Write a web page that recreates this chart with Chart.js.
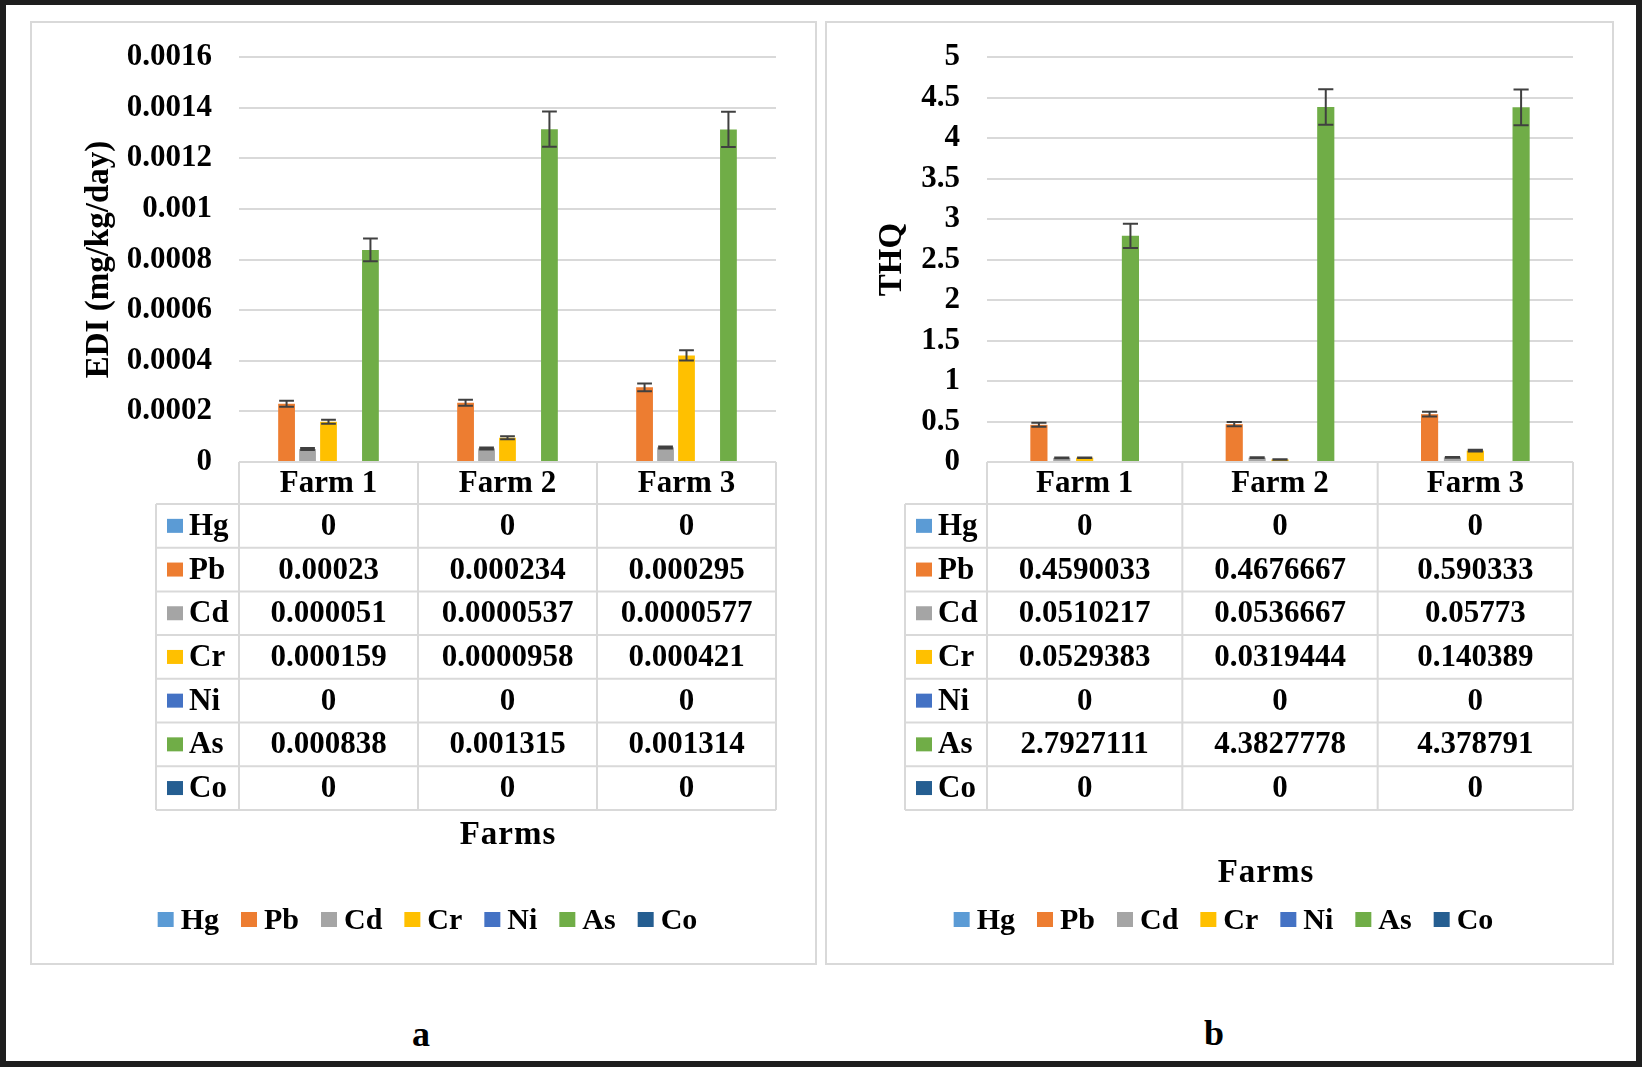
<!DOCTYPE html>
<html>
<head>
<meta charset="utf-8">
<title>EDI and THQ by farm</title>
<script src="https://cdn.jsdelivr.net/npm/chart.js@4.4.1/dist/chart.umd.min.js"></script>
<style>
  html, body { margin: 0; padding: 0; background: #fff; }
  #frame { position: absolute; left: 0; top: 0; width: 1642px; height: 1067px; box-sizing: border-box;
           border: 6px solid #1e1e1e; border-top-width: 5px; }
  .panel { position: absolute; top: 21px; height: 944px; box-sizing: border-box; border: 2px solid #d9d9d9; }
  #panelA { left: 30px; width: 787px; }
  #panelB { left: 825px; width: 789px; }
  canvas { position: absolute; }
  #chartA { left: 32px; top: 23px; }
  #chartB { left: 827px; top: 23px; }
  .tag { position: absolute; font: bold 36px 'Liberation Serif', serif; transform: translate(-50%, -50%); }
</style>
</head>
<body>
<div id="frame"></div>
<div class="panel" id="panelA"></div>
<div class="panel" id="panelB"></div>
<canvas id="chartA" width="783" height="940"></canvas>
<canvas id="chartB" width="785" height="940"></canvas>
<div class="tag" style="left:421px; top:1034px;">a</div>
<div class="tag" style="left:1214px; top:1033px;">b</div>

<script>
// categories and series
const farms = ['Farm 1', 'Farm 2', 'Farm 3'];
const metals = ['Hg', 'Pb', 'Cd', 'Cr', 'Ni', 'As', 'Co'];
const metalColors = ['#5b9bd5', '#ed7d31', '#a5a5a5', '#ffc000', '#4472c4', '#70ad47', '#255e91'];

// EDI (mg/kg/day)
const ediHg = [0, 0, 0];
const ediPb = [0.00023, 0.000234, 0.000295];
const ediCd = [0.000051, 0.0000537, 0.0000577];
const ediCr = [0.000159, 0.0000958, 0.000421];
const ediNi = [0, 0, 0];
const ediAs = [0.000838, 0.001315, 0.001314];
const ediCo = [0, 0, 0];
// error bars
const ediPbErr = [0.000012, 0.000012, 0.000015];
const ediCdErr = [0.000004, 0.000004, 0.000004];
const ediCrErr = [0.000008, 0.000006, 0.00002];
const ediAsErr = [0.000045, 0.00007, 0.00007];
const ediTicks = [0, 0.0002, 0.0004, 0.0006, 0.0008, 0.001, 0.0012, 0.0014, 0.0016];

// THQ
const thqHg = [0, 0, 0];
const thqPb = [0.4590033, 0.4676667, 0.590333];
const thqCd = [0.0510217, 0.0536667, 0.05773];
const thqCr = [0.0529383, 0.0319444, 0.140389];
const thqNi = [0, 0, 0];
const thqAs = [2.7927111, 4.3827778, 4.378791];
const thqCo = [0, 0, 0];
const thqPbErr = [0.025, 0.025, 0.03];
const thqCdErr = [0.004, 0.004, 0.004];
const thqCrErr = [0.004, 0.003, 0.01];
const thqAsErr = [0.15, 0.22, 0.22];
const thqTicks = [0, 0.5, 1, 1.5, 2, 2.5, 3, 3.5, 4, 4.5, 5];

const FONT = "'Liberation Serif', 'Times New Roman', serif";

// error bars on top of the bars
const errorBarPlugin = {
  id: 'errorBars',
  afterDatasetsDraw(chart) {
    const ctx = chart.ctx;
    const y = chart.scales.y;
    ctx.save();
    ctx.strokeStyle = '#404040';
    ctx.lineWidth = 2;
    chart.data.datasets.forEach((ds, di) => {
      if (!ds.errors) return;
      chart.getDatasetMeta(di).data.forEach((bar, i) => {
        const e = ds.errors[i];
        if (!e) return;
        const v = ds.data[i];
        const yt = y.getPixelForValue(v + e);
        const yb = y.getPixelForValue(v - e);
        const half = bar.width / 2 - 1;
        ctx.beginPath();
        ctx.moveTo(bar.x, yt); ctx.lineTo(bar.x, yb);
        ctx.moveTo(bar.x - half, yt); ctx.lineTo(bar.x + half, yt);
        ctx.moveTo(bar.x - half, yb); ctx.lineTo(bar.x + half, yb);
        ctx.stroke();
      });
    });
    ctx.restore();
  }
};

// data table under the plot, x title and legend
const tablePlugin = {
  id: 'dataTable',
  afterDraw(chart, args, o) {
    const ctx = chart.ctx;
    const xs = chart.scales.x;
    const area = chart.chartArea;
    const n = chart.data.labels.length;
    const cw = xs.width / n;
    const sets = chart.data.datasets;
    const top = area.bottom;
    const headBottom = top + o.headerHeight;
    const bottom = headBottom + sets.length * o.rowHeight;
    const left = o.tableLeft;

    ctx.save();
    ctx.strokeStyle = '#d9d9d9';
    ctx.lineWidth = 2;
    ctx.beginPath();
    ctx.moveTo(area.left, top); ctx.lineTo(area.right, top);
    for (let r = 0; r <= sets.length; r++) {
      const yy = headBottom + r * o.rowHeight;
      ctx.moveTo(left, yy); ctx.lineTo(area.right, yy);
    }
    for (let i = 0; i <= n; i++) {
      const xx = xs.getPixelForValue(0) - cw / 2 + i * cw;
      ctx.moveTo(xx, top); ctx.lineTo(xx, bottom);
    }
    ctx.moveTo(left, headBottom); ctx.lineTo(left, bottom);
    ctx.stroke();

    ctx.fillStyle = '#000';
    ctx.textBaseline = 'middle';
    ctx.textAlign = 'center';
    ctx.font = 'bold 31px ' + FONT;
    chart.data.labels.forEach((lab, i) => {
      ctx.fillText(lab, xs.getPixelForValue(i), top + o.headerHeight / 2 + 1);
    });
    sets.forEach((ds, r) => {
      const yc = headBottom + r * o.rowHeight + o.rowHeight / 2 + 1;
      ctx.fillStyle = ds.backgroundColor;
      ctx.fillRect(left + 11, yc - 8, 16, 14);
      ctx.fillStyle = '#000';
      ctx.textAlign = 'left';
      ctx.fillText(ds.label, left + 33, yc);
      ctx.textAlign = 'center';
      ds.data.forEach((v, i) => ctx.fillText(String(v), xs.getPixelForValue(i), yc));
    });

    // axis title
    ctx.save();
    ctx.font = 'bold 33px ' + FONT;
    ctx.letterSpacing = '1px';
    ctx.fillText(o.xTitle, o.xTitleX, o.xTitleY);
    ctx.restore();

    // legend
    ctx.font = 'bold 30px ' + FONT;
    const gap = 22, box = 16, boxGap = 7;
    const widths = sets.map(ds => ctx.measureText(ds.label).width);
    const total = widths.reduce((a, w) => a + box + boxGap + w, 0) + gap * (sets.length - 1);
    let lx = chart.width / 2 + 4 - total / 2;
    ctx.textAlign = 'left';
    sets.forEach((ds, k) => {
      ctx.fillStyle = ds.backgroundColor;
      ctx.fillRect(lx, o.legendY - 8, box, 15);
      ctx.fillStyle = '#000';
      ctx.fillText(ds.label, lx + box + boxGap, o.legendY + 1);
      lx += box + boxGap + widths[k] + gap;
    });
    ctx.restore();
  }
};

function makeChart(id, series, errors, ticks, cfg) {
  const datasets = metals.map((m, k) => ({
    label: m,
    data: series[k],
    errors: errors[k],
    backgroundColor: metalColors[k],
    borderWidth: 0,
    categoryPercentage: 0.82,
    barPercentage: cfg.barPct
  }));
  return new Chart(document.getElementById(id), {
    type: 'bar',
    data: { labels: farms, datasets: datasets },
    plugins: [errorBarPlugin, tablePlugin],
    options: {
      responsive: false,
      animation: false,
      layout: { padding: { top: 34, right: 39, left: 0, bottom: 0 } },
      plugins: {
        legend: { display: false },
        tooltip: { enabled: false },
        dataTable: {
          headerHeight: 42,
          rowHeight: 43.7,
          tableLeft: cfg.tableLeft,
          xTitle: 'Farms',
          xTitleX: cfg.xTitleX,
          xTitleY: cfg.xTitleY,
          legendY: 897
        }
      },
      scales: {
        x: {
          grid: { display: false },
          border: { display: false },
          ticks: { display: false },
          afterFit(s) { s.height = 501; }
        },
        y: {
          min: 0,
          max: ticks[ticks.length - 1],
          afterBuildTicks(s) { s.ticks = ticks.map(v => ({ value: v })); },
          afterFit(s) { s.width = cfg.axisWidth; },
          // the invisible tick marks keep the labels 27px off the plot
          grid: { color: '#d9d9d9', lineWidth: 2, drawTicks: true, tickLength: 27, tickColor: 'rgba(0,0,0,0)' },
          border: { display: false },
          ticks: {
            padding: 0,
            autoSkip: false,
            color: '#000',
            font: { family: FONT, size: 31, weight: 'bold' },
            callback: v => String(v)
          },
          title: {
            display: true,
            text: cfg.yTitle,
            color: '#000',
            font: { family: FONT, size: 33, weight: 'bold' },
            padding: { top: cfg.yTitlePad, bottom: 0 }
          }
        }
      }
    }
  });
}

document.fonts.load("bold 30px 'Liberation Serif'").finally(() => {
  makeChart('chartA',
    [ediHg, ediPb, ediCd, ediCr, ediNi, ediAs, ediCo],
    [null, ediPbErr, ediCdErr, ediCrErr, null, ediAsErr, null],
    ediTicks,
    { barPct: 0.8, axisWidth: 207, tableLeft: 124, yTitle: 'EDI (mg/kg/day)', yTitlePad: 48,
      xTitleX: 476, xTitleY: 812 });
  makeChart('chartB',
    [thqHg, thqPb, thqCd, thqCr, thqNi, thqAs, thqCo],
    [null, thqPbErr, thqCdErr, thqCrErr, null, thqAsErr, null],
    thqTicks,
    { barPct: 0.75, axisWidth: 160, tableLeft: 78, yTitle: 'THQ', yTitlePad: 46,
      xTitleX: 439, xTitleY: 850 });
});
</script>
</body>
</html>
